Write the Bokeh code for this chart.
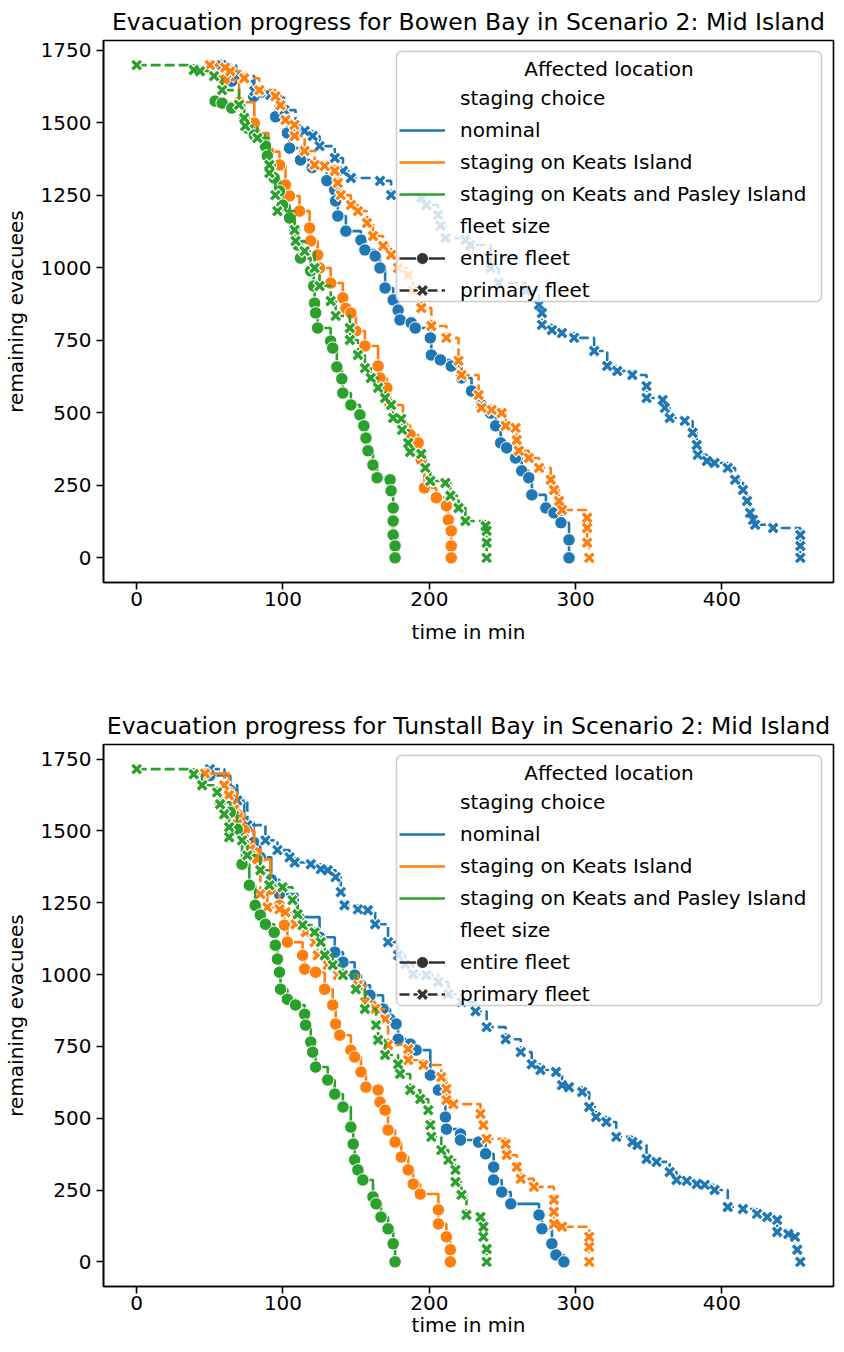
from bokeh.plotting import figure
from bokeh.models import Legend, LegendItem, FixedTicker, Range1d, Label, ColumnDataSource, BoxAnnotation
from bokeh.layouts import column
from bokeh.embed import file_html
from bokeh.resources import INLINE

FONT = "DejaVu Sans"
staging_labels = ["nominal", "staging on Keats Island", "staging on Keats and Pasley Island"]
fleet_labels = ["entire fleet", "primary fleet"]
staging_colors = ["#1f77b4", "#ff7f0e", "#2ca02c"]
x_ticks = [0, 100, 200, 300, 400]
y_ticks = [0, 250, 500, 750, 1000, 1250, 1500, 1750]
titles = ["Evacuation progress for Bowen Bay in Scenario 2: Mid Island",
          "Evacuation progress for Tunstall Bay in Scenario 2: Mid Island"]
legend_title = "Affected location"

# ---------------- Bowen Bay ----------------
bowen_nominal_entire_t = [57, 65, 80, 95, 103, 104.5, 112, 120, 130, 135.4, 136, 137.5, 143, 153.3, 156, 163,
                          166.3, 169.8, 175.3, 178.7, 180, 187.6, 190.4, 200.7, 201.4, 207.6, 215, 222, 228.9,
                          235.7, 241.9, 245.4, 248.8, 252.9, 259, 263.2, 268, 270.1, 279.7, 285.2, 290, 295.5, 295.5]
bowen_nominal_entire_n = [1698, 1643, 1590, 1520, 1464, 1412, 1371, 1345, 1300, 1268, 1230, 1178, 1126, 1095, 1061, 1040,
                          999, 930, 889, 854, 820, 810, 792, 758, 699, 682, 661, 620, 575,
                          527, 499, 455, 396, 379, 344, 300, 276, 217, 172, 155, 121, 62, 0]
bowen_nominal_primary_t = [58, 68, 80.4, 91.4, 98.3, 101, 108.6, 114.8, 120.3, 125, 135.4, 141, 146.4, 166.3, 173.9,
                           194.5, 198, 206, 207.6, 211, 224.7, 228, 241.9, 247.4, 266, 275, 277, 277, 283.8, 290.7,
                           299, 312.7, 321.6, 328.5, 338.8, 348.5, 348.5, 359.5, 361, 364.3, 374.6, 380, 382.8, 383.5,
                           389.7, 395, 404, 409, 414.4, 417.2, 419.2, 421.3, 422.7, 435, 453.6, 453.6, 453.6]
bowen_nominal_primary_n = [1698, 1660, 1609, 1595, 1574, 1543, 1481, 1471, 1454, 1419, 1378, 1333, 1309, 1299, 1250,
                           1240, 1216, 1182, 1144, 1102, 1095, 1078, 999, 947, 920, 872, 844, 803, 785, 775,
                           758, 713, 661, 644, 630, 592, 551, 544, 517, 482, 472, 431, 389, 355,
                           334, 327, 310, 269, 234, 196, 155, 131, 114, 103, 79, 41, 0]
bowen_keats_entire_t = [51.5, 59.8, 70, 80.4, 81, 90, 97.6, 101.7, 104.5, 111.3, 118.2, 118.9, 123.7, 125, 132.6,
                        140.9, 143, 146.4, 149.8, 156, 165, 166.3, 171, 173.2, 182, 186.9, 192.4, 194.5, 196.6,
                        204.8, 211.7, 213, 215, 215, 215]
bowen_keats_entire_n = [1698, 1647, 1570, 1498, 1464, 1400, 1354, 1285, 1247, 1195, 1137, 1092, 1044, 999, 947,
                        896, 860, 844, 782, 730, 661, 620, 586, 527, 458, 424, 396, 338, 241,
                        207, 179, 131, 93, 41, 0]
bowen_keats_primary_t = [50, 60.5, 64, 73.5, 83.8, 94.8, 98.3, 101.7, 107.9, 107.9, 114.8, 121.6, 128.5, 135.4, 137.5,
                         139.5, 146.4, 151.2, 157.4, 161.5, 168.4, 173.9, 178.7, 185.6, 189, 194.5, 201.4, 211.7,
                         220, 222, 233.7, 235.7, 242.6, 249.5, 252.2, 259, 259.8, 261.2, 268, 275, 283, 285.2,
                         288.7, 290.7, 307.9, 307.9, 307.9, 309.3]
bowen_keats_primary_n = [1698, 1690, 1677, 1653, 1612, 1591, 1560, 1509, 1492, 1454, 1402, 1354, 1350, 1333, 1292,
                         1250, 1216, 1195, 1154, 1109, 1075, 1044, 999, 975, 920, 861, 799, 758,
                         679, 630, 561, 517, 510, 499, 455, 448, 406, 369, 344, 310, 269, 234,
                         196, 165, 138, 103, 52, 0]
bowen_pasley_entire_t = [53.6, 58.4, 65, 73.5, 75.6, 80.4, 88, 89.3, 91.4, 94, 97.6, 99.7, 104.5, 107.9, 110, 112,
                         118.9, 121, 121.6, 122.3, 123.7, 132.6, 134, 136.8, 140.2, 140.9, 146.4, 152.6, 155.3,
                         156.7, 158.1, 161.5, 164.3, 173.2, 173.9, 175.3, 175.3, 175.3, 176.6, 176.6]
bowen_pasley_entire_n = [1574, 1567, 1550, 1509, 1481, 1457, 1419, 1385, 1350, 1309, 1264, 1216, 1171, 1126, 1078, 1033,
                         989, 937, 878, 844, 792, 747, 723, 658, 617, 568, 527, 493, 455,
                         413, 369, 320, 276, 269, 231, 172, 127, 79, 41, 0]
bowen_pasley_primary_t = [0, 39, 43.3, 52.9, 58.4, 70, 73.5, 74.2, 82.5, 90.7, 90.7, 94.8, 96.2, 107.9, 108.6, 114.8,
                          121.6, 125, 132.6, 136, 145.7, 145.7, 151.2, 156, 160, 165, 169.8, 173.9, 175.3, 180.8,
                          181.4, 185.6, 186.9, 194.5, 197.3, 200.7, 211, 214.4, 220, 224.7, 238.5, 239.2, 239.2, 239.2]
bowen_pasley_primary_n = [1698, 1681, 1677, 1660, 1612, 1561, 1516, 1488, 1447, 1354, 1326, 1250, 1195, 1130, 1092, 1057,
                          999, 937, 885, 834, 792, 751, 699, 654, 620, 586, 551, 527, 482, 479,
                          441, 396, 365, 358, 310, 265, 258, 214, 172, 127, 110, 93, 52, 0]

# ---------------- Tunstall Bay ----------------
tunstall_nominal_entire_t = [50, 64, 68.7, 73.5, 80, 84.5, 92, 97.6, 110, 125, 135.4, 141, 149, 153.3, 159.5, 168.4,
                             173.2, 177.3, 178.7, 187, 191, 200.7, 206.2, 211, 211.7, 221.3, 221.3, 233.7, 238.5,
                             244, 244, 249.5, 255.7, 275, 277, 283.8, 286.6, 292]
tunstall_nominal_entire_n = [1693, 1641, 1600, 1530, 1460, 1408, 1330, 1280, 1200, 1130, 1078, 1043, 998, 963, 928, 880,
                             845, 828, 775, 758, 737, 650, 598, 504, 462, 445, 424, 417, 376,
                             330, 285, 243, 202, 163, 115, 63, 24, 0]
tunstall_nominal_primary_t = [50, 60, 68.7, 75.6, 88, 96.2, 104.5, 108, 119, 125.8, 130.6, 136, 139.5, 142, 151.2, 158,
                              163, 171.8, 178.7, 183.5, 189, 198, 206.2, 213, 222, 231.6, 239.2, 252.2, 262.5, 270,
                              276, 286.6, 290.7, 295.5, 304.5, 309.3, 314, 321, 327.8, 338.8, 342.3, 348.5, 355.3,
                              364.3, 369, 376, 382.8, 388.3, 395, 404, 414.4, 424, 431, 437.8, 437.8, 445.4, 450,
                              451.5, 453.6]
tunstall_nominal_primary_n = [1715, 1660, 1606, 1520, 1467, 1433, 1408, 1390, 1384, 1367, 1363, 1339, 1287, 1241, 1227, 1224,
                              1175, 1113, 1067, 1036, 1001, 998, 974, 932, 904, 872, 817, 775, 730, 688,
                              668, 661, 615, 608, 591, 539, 504, 487, 435, 417, 407, 358, 348,
                              313, 285, 282, 271, 268, 250, 191, 184, 167, 156, 146, 104, 97, 87,
                              42, 0]
tunstall_keats_entire_t = [46.7, 63, 68.7, 73.5, 80.4, 82.5, 91.4, 97.6, 101, 103, 113.4, 114.8, 122.3, 128.5, 134, 136,
                           138.8, 146.4, 149, 153.3, 156.7, 165, 166.3, 169.8, 171.8, 176.6, 180.8, 185.6, 189,
                           193.8, 206.2, 206.2, 211.7, 214.4, 214.4]
tunstall_keats_entire_n = [1700, 1634, 1558, 1502, 1426, 1401, 1297, 1241, 1172, 1113, 1067, 1019, 1008, 949, 894, 828,
                           789, 737, 713, 661, 608, 598, 556, 528, 459, 417, 365, 320, 271,
                           236, 181, 132, 87, 42, 0]
tunstall_keats_primary_t = [46.7, 59.8, 63, 66.7, 68.7, 73.5, 77.7, 84.5, 84.5, 89.3, 97.6, 101.7, 108.6, 115.5, 121.6,
                            123.7, 130.6, 137.5, 151.2, 156, 163, 169.8, 171.8, 185.6, 185.6, 196, 208.2, 211.7,
                            211.7, 216.5, 235, 237, 239.2, 252.2, 252.9, 259.8, 262.5, 271.5, 285.2, 285.2, 285.2,
                            290.7, 309.3, 309.3, 309.3]
tunstall_keats_primary_n = [1700, 1659, 1624, 1575, 1523, 1471, 1436, 1367, 1280, 1234, 1227, 1217, 1175, 1147, 1113,
                            1067, 1033, 998, 963, 904, 880, 845, 755, 741, 702, 685, 643, 602,
                            563, 549, 515, 476, 428, 410, 372, 330, 289, 261, 216, 174, 132,
                            122, 87, 52, 0]
tunstall_pasley_entire_t = [57, 64, 68.7, 72, 77, 81, 84.5, 88, 94, 94.8, 96.2, 97.6, 98.3, 103, 108.6, 114.8, 115.5,
                            119, 120.3, 122.3, 130.6, 135.4, 141, 146.4, 148, 149, 151.2, 154.6, 161.5, 163.6, 167,
                            171.8, 175.3, 176.6]
tunstall_pasley_entire_n = [1600, 1565, 1506, 1384, 1311, 1241, 1207, 1175, 1147, 1102, 1054, 1008, 949, 914, 894, 862, 824,
                            765, 730, 678, 633, 584, 539, 469, 410, 355, 320, 285, 226, 202, 156,
                            115, 63, 0]
tunstall_pasley_primary_t = [0, 39, 44.7, 55, 57, 59.8, 63.2, 63.2, 72, 75.6, 84.5, 90.7, 99.7, 106.5, 110, 113.4, 121.6,
                             125.8, 128.5, 134, 141, 149.8, 156, 163.6, 165, 169.8, 178.7, 180, 187, 193.8, 199.3,
                             200.7, 201.4, 208.2, 213, 217.9, 217.9, 222, 225.4, 235, 237, 237, 239.2, 239.2]
tunstall_pasley_primary_n = [1715, 1697, 1659, 1634, 1593, 1558, 1513, 1478, 1467, 1415, 1363, 1311, 1304, 1259, 1210, 1172, 1147,
                             1113, 1067, 1033, 998, 949, 880, 824, 772, 720, 688, 654, 598, 567, 528,
                             476, 435, 389, 355, 320, 278, 233, 163, 156, 122, 87, 45, 0]

panels = [
    [[(bowen_nominal_entire_t, bowen_nominal_entire_n), (bowen_nominal_primary_t, bowen_nominal_primary_n)],
     [(bowen_keats_entire_t, bowen_keats_entire_n), (bowen_keats_primary_t, bowen_keats_primary_n)],
     [(bowen_pasley_entire_t, bowen_pasley_entire_n), (bowen_pasley_primary_t, bowen_pasley_primary_n)]],
    [[(tunstall_nominal_entire_t, tunstall_nominal_entire_n), (tunstall_nominal_primary_t, tunstall_nominal_primary_n)],
     [(tunstall_keats_entire_t, tunstall_keats_entire_n), (tunstall_keats_primary_t, tunstall_keats_primary_n)],
     [(tunstall_pasley_entire_t, tunstall_pasley_entire_n), (tunstall_pasley_primary_t, tunstall_pasley_primary_n)]],
]

LW = 2.6
DASH = "10 4"
GRAY = "#333333"
FRAME_W, FRAME_H = 730, 542
BORDER_L = 97
# legend box in frame pixels (from the frame's top-left corner)
BOX_L, BOX_R, BOX_T, BOX_B = 293, 718, 11, 261


def draw_x(p, src, color, visible=True):
    w = p.scatter("t", "n", source=src, marker="x", size=14, line_color="white", line_width=6, visible=visible)
    m = p.scatter("t", "n", source=src, marker="x", size=12, line_color=color, line_width=3.4, visible=visible)
    return w, m


def make_panel(title, series, top_border, bottom_border, xlabel_standoff):
    all_t = [v for s in series for f in s for v in f[0]]
    all_n = [v for s in series for f in s for v in f[1]]
    tmin, tmax = min(all_t), max(all_t)
    nmin, nmax = min(all_n), max(all_n)
    dx, dy = 0.05 * (tmax - tmin), 0.05 * (nmax - nmin)
    x0, x1, y0, y1 = tmin - dx, tmax + dx, nmin - dy, nmax + dy
    fx = lambda px: x0 + px / FRAME_W * (x1 - x0)
    fy = lambda py: y1 - py / FRAME_H * (y1 - y0)
    p = figure(title=title, frame_width=FRAME_W, frame_height=FRAME_H,
               x_range=Range1d(x0, x1), y_range=Range1d(y0, y1),
               output_backend="svg", toolbar_location=None,
               min_border_left=BORDER_L, min_border_right=2,
               min_border_top=top_border, min_border_bottom=bottom_border,
               background_fill_color="white", border_fill_color="white")
    p.title.text_font = FONT
    p.title.text_font_size = "23.5px"
    p.title.text_font_style = "normal"
    p.title.text_color = "black"
    p.title.align = "center"

    first_src = None
    for (c, fleets) in zip(staging_colors, series):
        for k, (t, n) in enumerate(fleets):
            src = ColumnDataSource(dict(t=t, n=n))
            if first_src is None:
                first_src = src
            p.step("t", "n", source=src, mode="after", line_color=c, line_width=LW,
                   line_dash="solid" if k == 0 else DASH)
            if k == 0:
                p.scatter("t", "n", source=src, marker="circle", size=12.5, fill_color=c,
                          line_color="white", line_width=1)
            else:
                draw_x(p, src, c)

    # legend frame (semi-transparent, rounded) and centred legend title
    p.add_layout(BoxAnnotation(left=fx(BOX_L), right=fx(BOX_R), top=fy(BOX_T), bottom=fy(BOX_B),
                               fill_color="white", fill_alpha=0.8, line_color="#cccccc",
                               line_width=1.5, line_alpha=1, border_radius=5))
    p.add_layout(Label(x=fx((BOX_L + BOX_R) / 2), y=fy(BOX_T + 17), text=legend_title,
                       text_align="center", text_baseline="middle",
                       text_font=FONT, text_font_size="20px", text_color="black"))

    # legend proxies: hidden renderers (legend shows them un-faded)
    blank = p.line("t", "n", source=first_src, line_alpha=0, visible=False)
    stage_lines = [p.line("t", "n", source=first_src, line_color=c, line_width=LW, visible=False)
                   for c in staging_colors]
    e_line = p.line("t", "n", source=first_src, line_color=GRAY, line_width=LW, visible=False)
    e_mark = p.scatter("t", "n", source=first_src, marker="circle", size=12.5, fill_color=GRAY,
                       line_color="white", line_width=1, visible=False)
    p_line = p.line("t", "n", source=first_src, line_color=GRAY, line_width=LW, line_dash=DASH, visible=False)
    p_w, p_m = draw_x(p, first_src, GRAY, visible=False)
    items = [LegendItem(label="staging choice", renderers=[blank])]
    items += [LegendItem(label=lab, renderers=[r]) for lab, r in zip(staging_labels, stage_lines)]
    items += [LegendItem(label="fleet size", renderers=[blank]),
              LegendItem(label=fleet_labels[0], renderers=[e_line, e_mark]),
              LegendItem(label=fleet_labels[1], renderers=[p_line, p_w, p_m])]
    leg = Legend(items=items, location="top_right", margin=11, padding=6, spacing=2,
                 glyph_width=46, glyph_height=30, label_height=30, label_standoff=15, label_width=356,
                 label_text_font=FONT, label_text_font_size="20px", label_text_color="black",
                 title=" ", title_text_font=FONT, title_text_font_size="20px",
                 title_text_font_style="normal", title_text_color="black", title_standoff=2,
                 border_line_alpha=0, background_fill_alpha=0, inactive_fill_alpha=0)
    p.add_layout(leg)

    p.xaxis.ticker = FixedTicker(ticks=x_ticks)
    p.yaxis.ticker = FixedTicker(ticks=y_ticks)
    p.xaxis.axis_label = "time in min"
    p.yaxis.axis_label = "remaining evacuees"
    for ax in (p.xaxis[0], p.yaxis[0]):
        ax.axis_label_text_font = FONT
        ax.axis_label_text_font_size = "20px"
        ax.axis_label_text_font_style = "normal"
        ax.axis_label_text_color = "black"
        ax.major_label_text_font = FONT
        ax.major_label_text_font_size = "20px"
        ax.major_label_text_color = "black"
        ax.major_tick_out = 7
        ax.major_tick_in = 0
        ax.minor_tick_out = 0
        ax.minor_tick_in = 0
        ax.major_tick_line_width = 1.6
        ax.major_tick_line_color = "black"
        ax.axis_line_width = 1.6
        ax.axis_line_color = "black"
    p.xaxis.major_label_standoff = 2
    p.xaxis.axis_label_standoff = xlabel_standoff
    p.yaxis.major_label_standoff = 5
    p.yaxis.axis_label_standoff = 10
    p.xgrid.visible = False
    p.ygrid.visible = False
    p.outline_line_color = "black"
    p.outline_line_width = 1.6
    p.outline_line_alpha = 1
    return p


p1 = make_panel(titles[0], panels[0], 34, 114, 11)
p2 = make_panel(titles[1], panels[1], 48, 56, 0)
layout = column(p1, p2, spacing=0)
open("out.html", "w").write(file_html(layout, INLINE))
